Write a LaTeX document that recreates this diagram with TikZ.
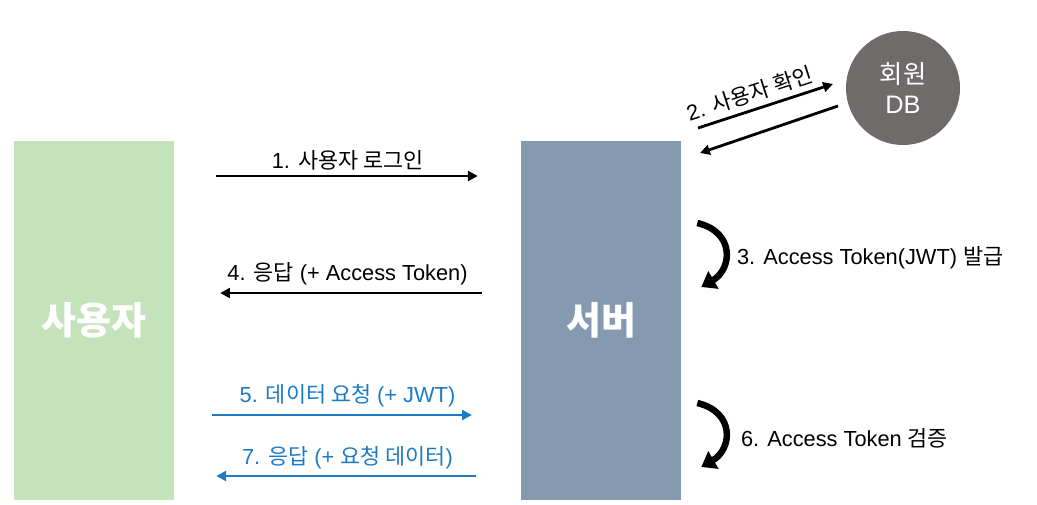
\documentclass[tikz,border=0pt]{standalone}
\usepackage{fontspec}
\setmainfont{Liberation Sans}
\newfontfamily\krfont{Noto Sans CJK KR}
\newcommand{\kr}[1]{{\krfont #1}}
\usetikzlibrary{arrows.meta,positioning}
\definecolor{usergreen}{HTML}{C5E3BB}
\definecolor{serverblue}{HTML}{8599B1}
\definecolor{dbgray}{HTML}{6F6B6A}
\definecolor{reqblue}{HTML}{1B7BC7}

\begin{document}
\begin{tikzpicture}[
    x=0.025cm, y=-0.025cm,
    party/.style={rectangle, minimum width=4cm, minimum height=8.975cm, text=white, font=\krfont\fontsize{27}{32}\selectfont\bfseries},
    db/.style={circle, fill=dbgray, minimum size=2.85cm, text=white, align=center, font=\fontsize{18}{22}\selectfont},
    arrow/.style={-{Triangle[length=7pt,width=7pt]}, line width=2pt},
    blue arrow/.style={arrow, draw=reqblue},
    curl/.style={-{Triangle[length=10pt,width=14pt]}, line width=4.6pt},
    label/.style={font=\fontsize{15.5}{18}\selectfont, inner sep=2pt},
    side/.style={label, anchor=west}
]
    \useasboundingbox (0,0) rectangle (1037,505);

    % Parties
    \node[party, fill=usergreen] (user) at (94,320.5) {사용자};
    \node[party, fill=serverblue] (server) at (601,320.5) {서버};
    \node[db] (memberdb) at (903,88) {\kr{회원}\\[-1pt]DB};

    % Ends of the server <-> DB arrows
    \coordinate (ask0) at (698,128);
    \coordinate (ask1) at (833,84);
    \coordinate (ans0) at (838,106);
    \coordinate (ans1) at (700,153);

    % Requests and responses
    \draw[arrow, shorten <=29.8pt, shorten >=30.5pt] (user.east |- 0,176) -- (server.west |- 0,176)
        node[midway, above, label, yshift=1pt] {1. \kr{사용자 로그인}};
    \draw[arrow, shorten <=27.6pt, shorten >=32.6pt] (server.west |- 0,293) -- (user.east |- 0,293)
        node[midway, above, label, yshift=3pt] {4. \kr{응답} (+ Access Token)};
    \draw[blue arrow, shorten <=26.9pt, shorten >=34.7pt] (user.east |- 0,415) -- (server.west |- 0,415)
        node[midway, above, label, text=reqblue, yshift=3pt] {5. \kr{데이터 요청} (+ JWT)};
    \draw[blue arrow, shorten <=31.9pt, shorten >=29.8pt] (server.west |- 0,476) -- (user.east |- 0,476)
        node[midway, above, label, text=reqblue, yshift=2pt] {7. \kr{응답} (+ \kr{요청 데이터})};

    % Server asks the member DB
    \draw[arrow] (ask0) -- (ask1)
        node[pos=0.42, above, sloped, label, yshift=2pt] {2. \kr{사용자 확인}};
    \draw[arrow] (ans0) -- (ans1);

    % Work done on the server
    \draw[curl] (server.east |- 0,223) ++(16,0)
        .. controls +(38,9) and +(31,-18) .. ++(4,64) coordinate (c3);
    \node[side] (t3) at (734,258) {3. Access Token(JWT) \kr{발급}};
    \draw[curl] (server.east |- 0,403) ++(16,0)
        .. controls +(38,9) and +(31,-18) .. ++(4,64) coordinate (c6);
    \node[side] (t6) at (738,438) {6. Access Token \kr{검증}};

\end{tikzpicture}
\end{document}
